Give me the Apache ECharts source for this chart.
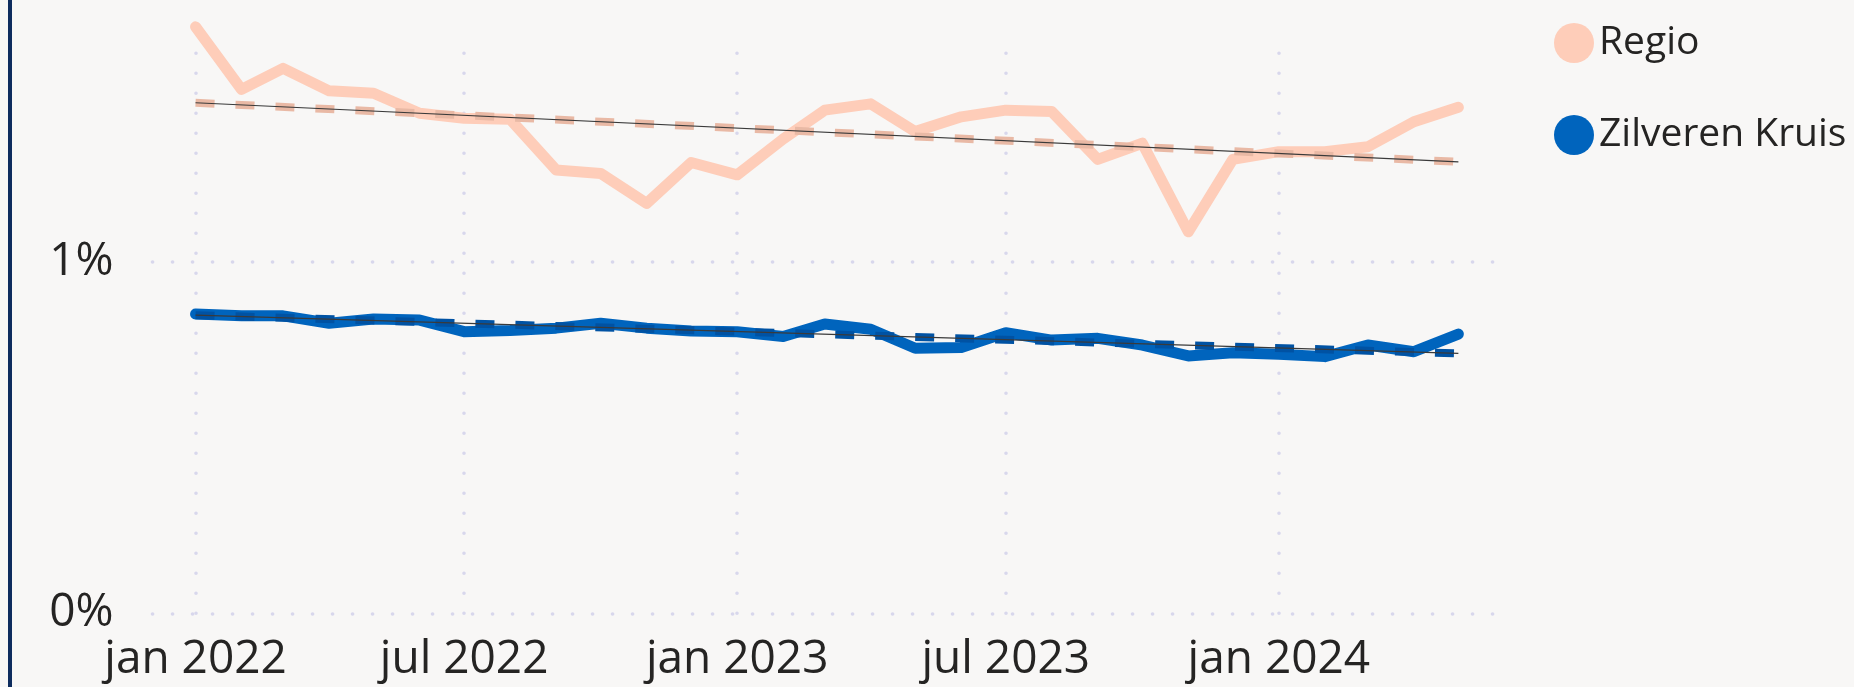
<!DOCTYPE html>
<html>
<head>
<meta charset="utf-8">
<title></title>
<script src="https://cdn.jsdelivr.net/npm/echarts@6/dist/echarts.min.js"></script>
<style>
html, body { margin: 0; padding: 0; background: #f8f7f6; overflow: hidden; }
#chart { width: 1854px; height: 687px; }
#edge { position: absolute; left: 8px; top: 0; width: 4px; height: 687px; background: #0e2c5e; }
</style>
</head>
<body>
<div id="chart"></div>
<div id="edge"></div>
<script>
// maanden jan 2022 - mei 2024
var months = ['2022-01','2022-02','2022-03','2022-04','2022-05','2022-06','2022-07','2022-08','2022-09','2022-10','2022-11','2022-12',
    '2023-01','2023-02','2023-03','2023-04','2023-05','2023-06','2023-07','2023-08','2023-09','2023-10','2023-11','2023-12',
    '2024-01','2024-02','2024-03','2024-04','2024-05'];
var regio = [1.668,1.490,1.550,1.486,1.479,1.422,1.408,1.405,1.261,1.251,1.166,1.282,
    1.247,1.349,1.431,1.449,1.370,1.412,1.431,1.427,1.291,1.337,1.085,1.291,
    1.313,1.313,1.327,1.398,1.439];
var zilverenKruis = [0.851,0.846,0.846,0.825,0.837,0.834,0.801,0.804,0.811,0.825,0.811,0.803,
    0.801,0.787,0.823,0.808,0.754,0.756,0.798,0.777,0.782,0.763,0.732,0.741,
    0.737,0.730,0.763,0.744,0.794];
// trendlijnen: begin- en eindwaarde
var regioTrend = [1.452, 1.284];
var zkTrend = [0.848, 0.739];
var xTickDates = ['2022-01-01','2022-07-01','2023-01-01','2023-07-01','2024-01-01'];
var xTickLabels = ['jan 2022','jul 2022','jan 2023','jul 2023','jan 2024'];
var yTicks = [0, 1];

// x as dagen sinds 1 jan 2022
function day(s) {
    var p = s.split('-');
    return Math.round((Date.UTC(+p[0], +p[1] - 1, p[2] ? +p[2] : 1) - Date.UTC(2022, 0, 1)) / 864e5);
}
function pairs(vals) {
    return vals.map(function(v, i) { return [day(months[i]), v]; });
}
function trend(vals) {
    return [[day(months[0]), vals[0]], [day(months[months.length - 1]), vals[1]]];
}

var font = '"Open Sans", "Noto Sans", sans-serif';
var gridDots = { color: '#d8d7ec', width: 3.6, type: [0.1, 19.9], cap: 'round' };

var chart = echarts.init(document.getElementById('chart'));
var option = {
    backgroundColor: '#f8f7f6',
    animation: false,
    grid: { left: 152.5, right: 360, top: 34, bottom: 73.7 },
    legend: {
        data: ['Regio', 'Zilveren Kruis'],
        orient: 'vertical',
        left: 1549,
        top: 16,
        itemWidth: 40,
        itemHeight: 40,
        itemGap: 48,
        icon: 'circle',
        textStyle: { fontFamily: font, fontSize: 39, color: '#252423', lineHeight: 44 }
    },
    xAxis: {
        type: 'value',
        min: day('2021-12-03'),
        max: day('2024-05-25'),
        axisLine: { show: false },
        axisTick: { show: false },
        splitLine: { show: false },
        axisLabel: {
            customValues: xTickDates.map(day),
            margin: 24,
            fontFamily: font,
            fontSize: 46,
            lineHeight: 46,
            color: '#252423',
            formatter: function(v) {
                for (var i = 0; i < xTickDates.length; i++) {
                    if (day(xTickDates[i]) === v) return xTickLabels[i];
                }
                return '';
            }
        }
    },
    yAxis: {
        type: 'value',
        min: 0,
        max: 1.6476,
        axisLine: { show: false },
        axisTick: { show: false },
        splitLine: { show: false },
        axisLabel: {
            customValues: yTicks,
            margin: 39,
            fontFamily: font,
            fontSize: 46,
            color: '#252423',
            formatter: function(v) { return v + '%'; }
        }
    },
    series: [
        {
            name: 'Regio', type: 'line', data: pairs(regio), symbol: 'none', clip: false,
            color: '#fecdb9',
            lineStyle: { width: 11, color: '#fecdb9', cap: 'round', join: 'round' },
            markLine: {
                silent: true, z: 1, symbol: ['none', 'none'], label: { show: false },
                lineStyle: gridDots,
                data: yTicks.map(function(v) { return { yAxis: v }; })
                    .concat(xTickDates.map(function(d) { return { xAxis: day(d) }; }))
            }
        },
        {
            name: 'Zilveren Kruis', type: 'line', data: pairs(zilverenKruis), symbol: 'none', clip: false,
            color: '#0064bd',
            lineStyle: { width: 11, color: '#0064bd', cap: 'round', join: 'round' }
        },
        {
            name: 'Regio trend', type: 'line', data: trend(regioTrend), symbol: 'none', z: 3,
            lineStyle: { width: 8, color: '#e9b9a5', type: [19, 21] }
        },
        {
            name: 'Zilveren Kruis trend', type: 'line', data: trend(zkTrend), symbol: 'none', z: 3,
            lineStyle: { width: 8, color: '#0052a3', type: [19, 21] }
        },
        {
            name: 'Regio trend lijn', type: 'line', data: trend(regioTrend), symbol: 'none', z: 4,
            lineStyle: { width: 1.2, color: '#3a3a3a' }
        },
        {
            name: 'Zilveren Kruis trend lijn', type: 'line', data: trend(zkTrend), symbol: 'none', z: 4,
            lineStyle: { width: 1.2, color: '#3a3a3a' }
        }
    ]
};
chart.setOption(option);
</script>
</body>
</html>
